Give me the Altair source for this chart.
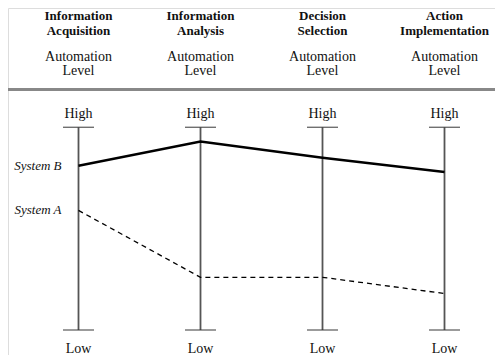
import altair as alt
import pandas as pd

stages = ["Information Acquisition", "Information Analysis", "Decision Selection", "Action Implementation"]
axis_title = "Automation Level"
system_b = [81, 93, 85, 78]
system_a = [59, 26, 26, 18]
series_names = ["System B", "System A"]
level_high = 100
level_low = 0

SERIF = "Liberation Serif"

lines_df = pd.DataFrame({
    "stage": stages * 2,
    "value": system_b + system_a,
    "system": [series_names[0]] * 4 + [series_names[1]] * 4,
})
stage_df = pd.DataFrame({"stage": stages, "axis": [axis_title] * 4,
                         "high": [level_high] * 4, "low": [level_low] * 4,
                         "hl": ["High"] * 4, "ll": ["Low"] * 4})

xs = alt.Scale(type="point", domain=stages, range=[70.5, 436.5], padding=0)
ys = alt.Scale(domain=[level_low, level_high], range=[322, 119.3])
X = alt.X("stage:N", scale=xs, axis=None)

base_stage = alt.Chart(stage_df)

axes_rules = base_stage.mark_rule(color="#555", strokeWidth=1.8).encode(
    x=X, y=alt.Y("low:Q", scale=ys, axis=None), y2="high:Q")
tick_hi = base_stage.mark_tick(orient="horizontal", size=31, thickness=1.4, color="#333").encode(
    x=X, y=alt.Y("high:Q", scale=ys, axis=None))
tick_lo = base_stage.mark_tick(orient="horizontal", size=31, thickness=1.4, color="#333").encode(
    x=X, y=alt.Y("low:Q", scale=ys, axis=None))
hi_txt = base_stage.mark_text(font=SERIF, fontSize=14, baseline="alphabetic", dy=-9, color="#111").encode(
    x=X, y=alt.Y("high:Q", scale=ys, axis=None), text="hl:N")
lo_txt = base_stage.mark_text(font=SERIF, fontSize=14, baseline="alphabetic", dy=23, color="#111").encode(
    x=X, y=alt.Y("low:Q", scale=ys, axis=None), text="ll:N")

header = base_stage.mark_text(font=SERIF, fontSize=13, fontWeight="bold", baseline="alphabetic",
                              lineBreak=" ", lineHeight=15, color="#111").encode(
    x=X, y=alt.value(12), text="stage:N")
sub = base_stage.mark_text(font=SERIF, fontSize=14, baseline="alphabetic",
                           lineBreak=" ", lineHeight=14, color="#111").encode(
    x=X, y=alt.value(53), text="axis:N")
sep = alt.Chart(stage_df).mark_rule(color="#888", strokeWidth=3).encode(
    x=alt.value(-2), x2=alt.value(490), y=alt.value(81.5))

line_b = alt.Chart(lines_df).transform_filter(alt.datum.system == series_names[0]).mark_line(
    color="black", strokeWidth=2.5).encode(x=X, y=alt.Y("value:Q", scale=ys, axis=None))
line_a = alt.Chart(lines_df).transform_filter(alt.datum.system == series_names[1]).mark_line(
    color="black", strokeWidth=1.3, strokeDash=[5, 4]).encode(x=X, y=alt.Y("value:Q", scale=ys, axis=None))
labels = alt.Chart(lines_df).transform_filter(alt.datum.stage == stages[0]).mark_text(
    font=SERIF, fontSize=13, fontStyle="italic", align="right", baseline="middle", dx=-17, color="#111").encode(
    x=X, y=alt.Y("value:Q", scale=ys, axis=None), text="system:N")

chart = alt.layer(axes_rules, tick_hi, tick_lo, hi_txt, lo_txt, header, sub, sep,
                  line_b, line_a, labels).properties(
    width=487, height=347, padding=0, autosize=alt.AutoSizeParams(type="none")
).configure_view(stroke=None).configure(background="white")

chart.save("out.html", embed_options={"renderer": "svg", "actions": False})
